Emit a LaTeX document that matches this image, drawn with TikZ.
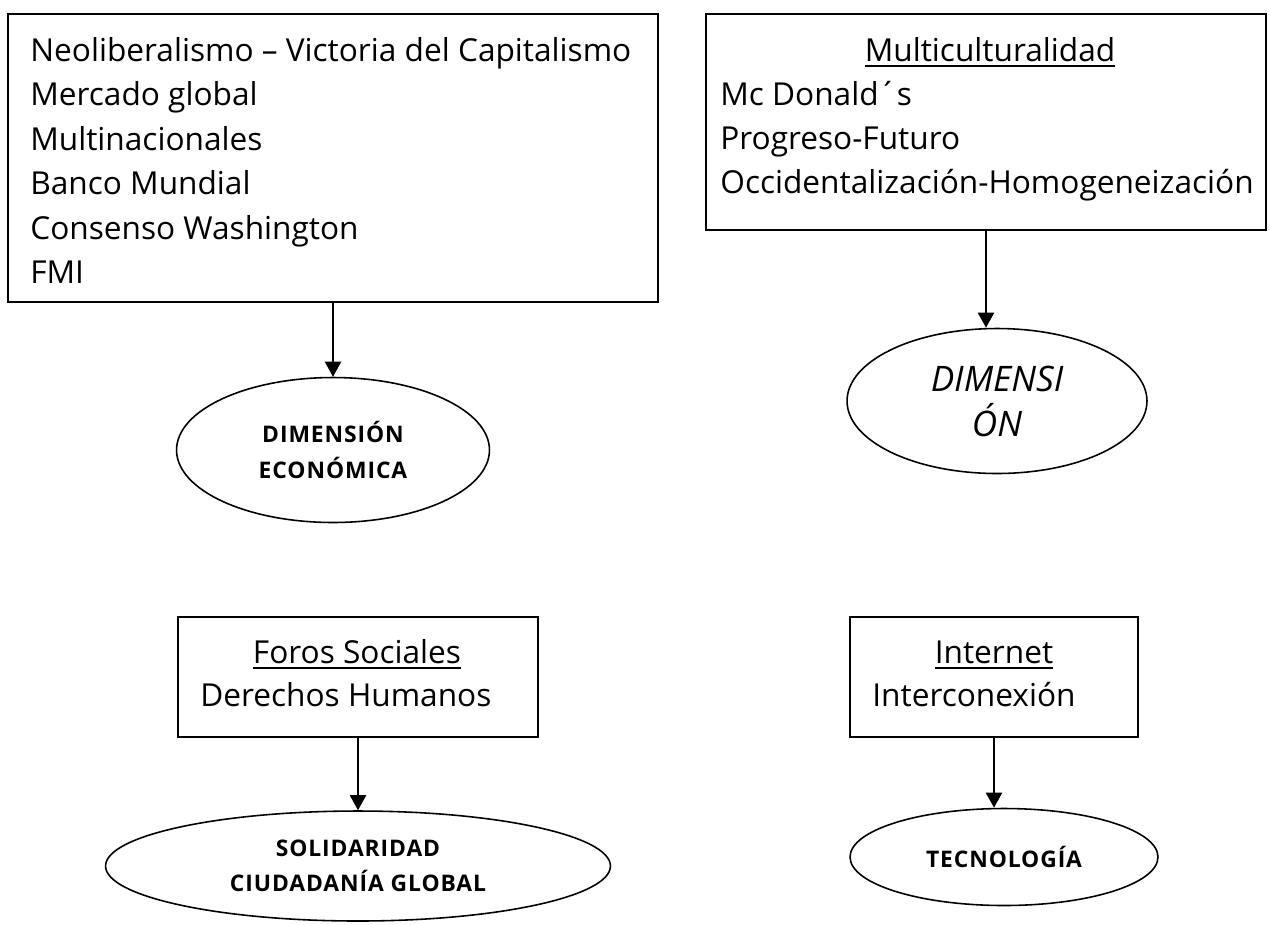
\documentclass[tikz,border=0pt]{standalone}
\usepackage{fontspec}
\setmainfont{Open Sans}
\usetikzlibrary{shapes.geometric,arrows.meta}
\newcommand{\ulhead}[1]{\setbox0\hbox{#1}\rlap{\rule[-0.12cm]{\wd0}{1.2pt}}\box0}
\newcommand{\itemfont}{\fontsize{18pt}{25.6pt}\selectfont}
\newcommand{\tagfont}{\fontsize{13pt}{20pt}\selectfont\bfseries\addfontfeature{LetterSpace=4}}
\newcommand{\dimfont}{\fontsize{20pt}{25.6pt}\selectfont\itshape}
\begin{document}
\begin{tikzpicture}[x=0.02cm, y=-0.02cm, >={Triangle[width=0.32cm,length=0.3cm]},
    box/.style={draw, line width=1.1pt, inner sep=0pt},
    blob/.style={draw, ellipse, line width=0.9pt, inner sep=0pt, align=center},
    txt/.style={inner sep=0pt, font=\itemfont}]
    \useasboundingbox (0,0) rectangle (1270,924);

    % Boxes
    \node[box, minimum width=13cm, minimum height=5.76cm] (b1) at (333,158) {};
    \node[box, minimum width=11.2cm, minimum height=4.32cm] (b2) at (986,122) {};
    \node[box, minimum width=7.2cm, minimum height=2.4cm] (b3) at (358,677) {};
    \node[box, minimum width=5.76cm, minimum height=2.4cm] (b4) at (994,677) {};

    % Text in box 1
    \node[txt, anchor=base west] (a1) at (30,61) {Neoliberalismo – Victoria del Capitalismo};
    \node[txt, anchor=base west] (a2) at (30,105) {Mercado global};
    \node[txt, anchor=base west] (a3) at (30,150) {Multinacionales};
    \node[txt, anchor=base west] (a4) at (30,194) {Banco Mundial};
    \node[txt, anchor=base west] (a5) at (30,239) {Consenso Washington};
    \node[txt, anchor=base west] (a6) at (30,283) {FMI};

    % Text in box 2
    \node[txt, anchor=base] (h2) at (990,61) {\ulhead{Multiculturalidad}};
    \node[txt, anchor=base west] (c1) at (720,105) {Mc Donald´s};
    \node[txt, anchor=base west] (c2) at (720,149) {Progreso-Futuro};
    \node[txt, anchor=base west] (c3) at (720,193) {Occidentalización-Homogeneización};

    % Text in boxes 3 and 4
    \node[txt, anchor=base] (h3) at (357,663) {\ulhead{Foros Sociales}};
    \node[txt, anchor=base west] (d3) at (200,706) {Derechos Humanos};
    \node[txt, anchor=base] (h4) at (994,663) {\ulhead{Internet}};
    \node[txt, anchor=base west] (d4) at (872,706) {Interconexión};

    % Ellipses
    \node[blob, font=\tagfont, minimum width=6.26cm, minimum height=2.9cm] (e1) at (333,450) {DIMENSIÓN\\ECONÓMICA};
    \node[blob, font=\dimfont, minimum width=6cm, minimum height=2.9cm] (e2) at (997,401) {DIMENSI\\ÓN};
    \node[blob, font=\tagfont, minimum width=10.1cm, minimum height=2.2cm] (e3) at (358,866) {SOLIDARIDAD\\CIUDADANÍA GLOBAL};
    \node[blob, font=\tagfont, minimum width=6.16cm, minimum height=1.94cm] (e4) at (1004,857) {TECNOLOGÍA};

    % Arrows
    \draw[->, very thick] (b1.south) -- (b1.south |- e1.north);
    \draw[->, very thick] (b2.south) -- (b2.south |- e2.north);
    \draw[->, very thick] (b3.south) -- (b3.south |- e3.north);
    \draw[->, very thick] (b4.south) -- (b4.south |- e4.north);
\end{tikzpicture}
\end{document}
